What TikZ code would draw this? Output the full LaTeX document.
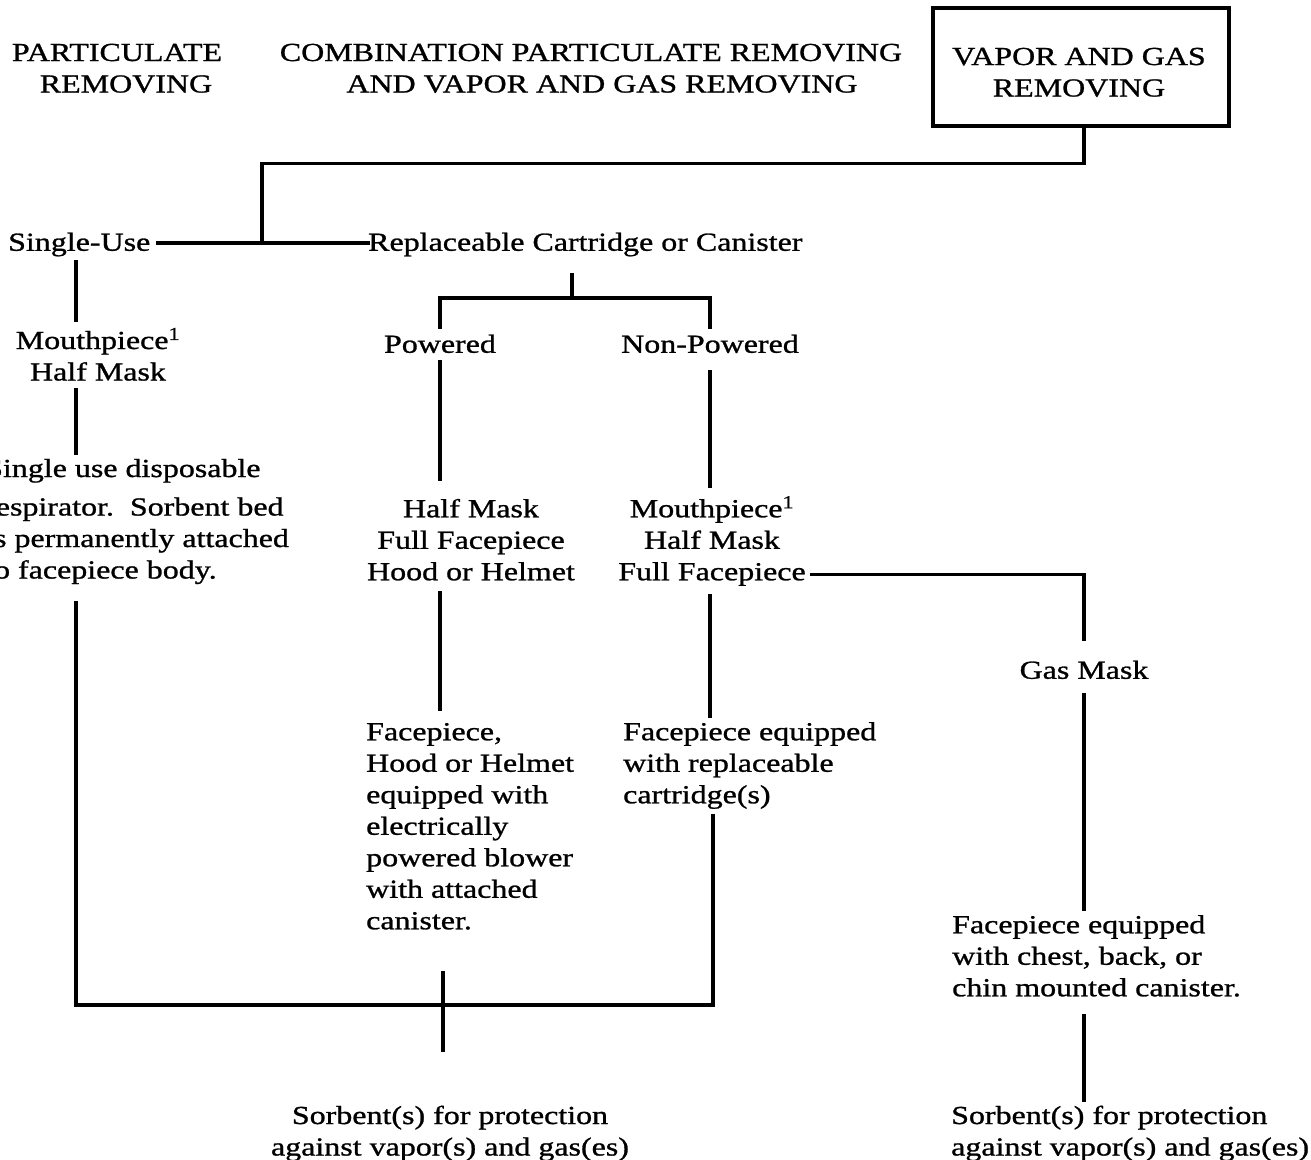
\documentclass[tikz,border=0pt]{standalone}
\usepackage{fontspec}
\setmainfont{Liberation Serif}[FakeStretch=1.23,FakeBold=1]
\newcommand\st{\rule[-8pt]{0pt}{31.5pt}}
\begin{document}
\begin{tikzpicture}[x=1pt,y=-1pt,
  txt/.style={inner sep=0pt, font=\fontsize{26}{31.5}\selectfont, align=center},
  ltxt/.style={txt, align=left, anchor=west},
  ln/.style={line width=3.2pt, line cap=rect, line join=miter},
  boxst/.style={draw, line width=3.2pt, minimum width=296pt, minimum height=118pt, inner sep=0pt}
]
\fill[white] (0,0) rectangle (1311,1159);
\useasboundingbox (0,0) rectangle (1311,1159);

% headers
\node[txt] (pr) at (117,69) {\st PARTICULATE\\\hspace*{18pt}\st REMOVING};
\node[txt] (cb) at (591,69) {\st COMBINATION PARTICULATE REMOVING\\\hspace*{22pt}\st AND VAPOR AND GAS REMOVING};
\node[boxst] (vg) at (1081,67) {};
\node[txt] (vgt) at (1079,73) {\st VAPOR AND GAS\\\st REMOVING};

% second row
\node[ltxt] (su) at (8,243) {\st Single-Use};
\node[ltxt] (rc) at (368,243) {\st Replaceable Cartridge or Canister};
\coordinate (j1) at (262,243);

% left column
\node[txt] (mp1) at (98,357) {\st Mouthpiece\textsuperscript{1}\\\st Half Mask};
\node[ltxt] (sd) at (-15,520) {\st Single use disposable\\[7pt]\st respirator.\ \ Sorbent bed\\\st is permanently attached\\\st to facepiece body.};

% powered / non-powered
\node[txt] (pw) at (440,345) {\st Powered};
\node[txt] (np) at (710,345) {\st Non-Powered};
\node[txt] (hm) at (471,541) {\st Half Mask\\\st Full Facepiece\\\st Hood or Helmet};
\node[txt] (mp2) at (712,541) {\st Mouthpiece\textsuperscript{1}\\\st Half Mask\\\st Full Facepiece};
\node[ltxt] (pt) at (366,827) {\st Facepiece,\\\st Hood or Helmet\\\st equipped with\\\st electrically\\\st powered blower\\\st with attached\\\st canister.};
\node[ltxt] (nt) at (623,764) {\st Facepiece equipped\\\st with replaceable\\\st cartridge(s)};
\node[txt] (ls) at (450,1132) {\st Sorbent(s) for protection\\\st against vapor(s) and gas(es)};

% gas mask column
\node[txt] (gm) at (1084,671) {\st Gas Mask};
\node[ltxt] (gt) at (952,957) {\st Facepiece equipped\\\st with chest, back, or\\\st chin mounted canister.};
\node[ltxt] (gs) at (951,1132) {\st Sorbent(s) for protection\\\st against vapor(s) and gas(es)};

% junction coordinates
\coordinate (b1) at (572,298);
\coordinate (b2) at (443,1005);
\coordinate (b3) at (76,1005);
\coordinate (b4) at (713,1005);

% connectors
\draw[ln] (vg.south -| gm) -- ++(0,36) -| (j1);
\draw[ln, shorten <=7pt] (su.east) -- (rc.west);
\draw[ln, shorten <=16pt] (rc.south -| b1) -- (b1);
\draw[ln, shorten >=2pt] (b1) -| (pw.north);
\draw[ln, shorten >=2pt] (b1) -| (np.north);
\draw[ln, shorten <=1pt, shorten >=14pt] (pw.south) -- (pw.south |- hm.north);
\draw[ln, shorten <=11pt, shorten >=7pt] (np.south) -- (np.south |- mp2.north);
\draw[ln, shorten <=4pt, shorten >=7pt] (hm.south -| pw) -- (pw |- pt.north);
\draw[ln, shorten <=7pt] (mp2.south -| np) -- (np |- nt.north);
\draw[ln, shorten <=4pt, shorten >=16pt] (nt.south -| b4) -- (b4) -- (b3) -- (b3 |- sd.south);
\draw[ln, shorten <=35pt, shorten >=50pt] (pt.south -| b2) -- (b2 |- ls.north);
\draw[ln, shorten <=3pt, shorten >=5pt] (su.south -| b3) -- (b3 |- mp1.north);
\draw[ln, shorten <=1pt] (mp1.south -| b3) -- (b3 |- sd.north);
\draw[ln, shorten <=6pt, shorten >=16pt] ([yshift=14pt]mp2.south east) -| (gm.north);
\draw[ln, shorten <=8pt] (gm.south) -- (gm.south |- gt.north);
\draw[ln, shorten <=11pt] (gt.south -| gm) -- (gm |- gs.north);
\end{tikzpicture}
\end{document}
